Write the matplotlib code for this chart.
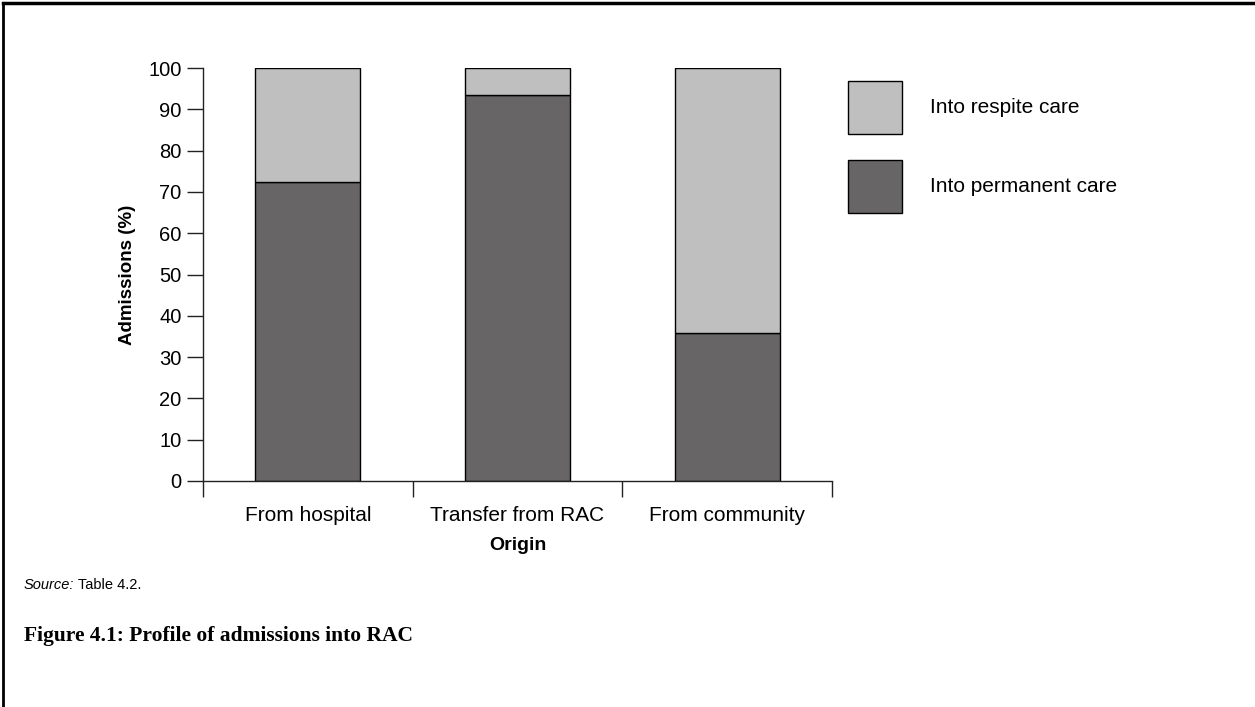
import numpy as np
import matplotlib.pyplot as plt
from matplotlib.lines import Line2D

# --- data ---
origins = ["From hospital", "Transfer from RAC", "From community"]
permanent = [72.3, 93.5, 35.8]
respite = [27.7, 6.5, 64.2]
y_ticks = [0, 10, 20, 30, 40, 50, 60, 70, 80, 90, 100]

dark = "#676566"
light = "#c0bfc0"

plt.rcParams["font.family"] = ["Liberation Sans", "DejaVu Sans"]

fig = plt.figure(figsize=(12.55, 7.07), dpi=100)
ax = fig.add_axes([203 / 1255, 1 - 481 / 707, 629 / 1255, 413 / 707])

x = np.arange(len(origins))
b1 = ax.bar(x, permanent, width=0.5, color=dark, edgecolor="black", linewidth=1,
            label="Into permanent care")
b2 = ax.bar(x, respite, width=0.5, bottom=permanent, color=light, edgecolor="black",
            linewidth=1, label="Into respite care")

ax.set_xlim(-0.5, len(origins) - 0.5)
ax.set_ylim(0, 100)
ax.set_yticks(y_ticks)
ax.tick_params(axis="y", labelsize=14.5, length=11.5, width=1, pad=4, color="#222222")

# category labels between separator ticks
ax.set_xticks(x)
ax.set_xticklabels(origins, fontsize=15)
ax.tick_params(axis="x", which="major", length=0, pad=18)
ax.set_xticks(np.arange(-0.5, len(origins)), minor=True)
ax.tick_params(axis="x", which="minor", length=11.5, width=1, color="#222222")

for s in ["top", "right"]:
    ax.spines[s].set_visible(False)
for s in ["left", "bottom"]:
    ax.spines[s].set_color("#222222")
    ax.spines[s].set_linewidth(1)

ax.set_ylabel("Admissions (%)", fontsize=13.5, fontweight="bold")
ax.yaxis.set_label_coords(-0.107, 0.5)
ax.set_xlabel("Origin", fontsize=14, fontweight="bold")
ax.xaxis.set_label_coords(0.5, -0.155)
ax.xaxis.label.set_va("center")

fig.legend(handles=[b2, b1], labels=["Into respite care", "Into permanent care"],
           loc="upper left", bbox_to_anchor=(848 / 1255, 1 - 81 / 707),
           frameon=False, fontsize=15, handlelength=2.6, handleheight=3.54,
           handletextpad=1.35, labelspacing=1.25, borderpad=0, borderaxespad=0)

# notes
src = fig.text(24 / 1255, 1 - 585 / 707, "Source:", fontsize=10.5, style="italic", va="center")
ax.annotate(" Table 4.2.", xy=(1, 0.5), xycoords=src, fontsize=10.5, va="center")
fig.text(24 / 1255, 1 - 636 / 707, "Figure 4.1: Profile of admissions into RAC",
         fontsize=15.5, fontweight="bold", family=["Liberation Serif", "DejaVu Serif"],
         va="center")

# page border (top and left only)
fig.add_artist(Line2D([3 / 1255, 1], [1 - 3 / 707, 1 - 3 / 707], color="black", lw=2.5,
                      transform=fig.transFigure))
fig.add_artist(Line2D([3 / 1255, 3 / 1255], [0, 1 - 3 / 707], color="black", lw=2,
                      transform=fig.transFigure))

fig.savefig("out.png", dpi=100)
